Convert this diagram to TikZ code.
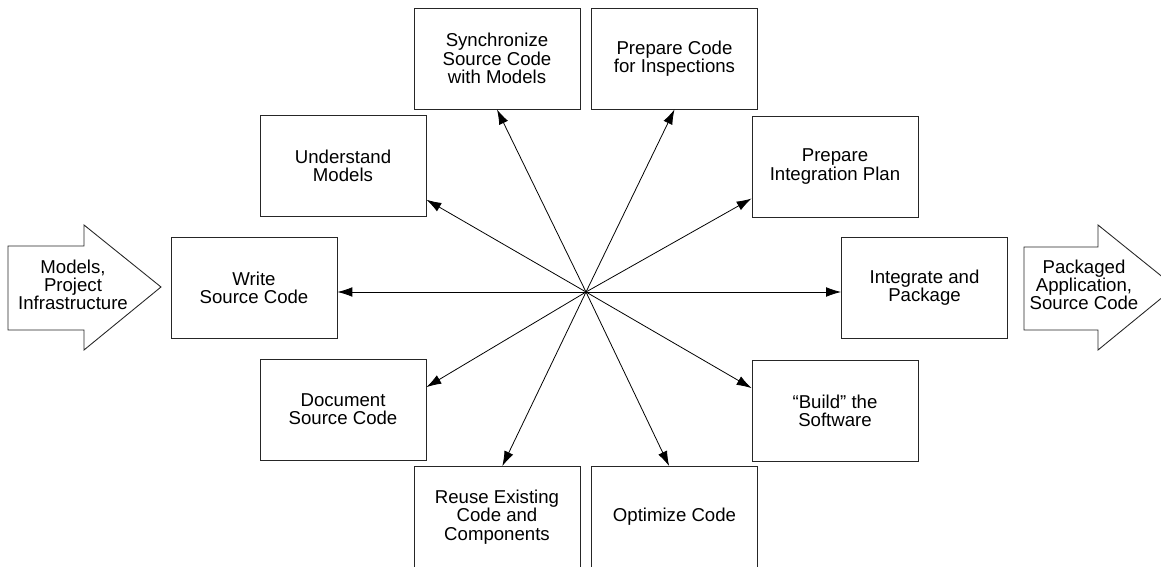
\documentclass[tikz,border=0pt]{standalone}
\usepackage{fontspec}
\setmainfont{Liberation Sans}
\usetikzlibrary{arrows.meta}

\begin{document}
\begin{tikzpicture}[x=0.02cm,y=-0.02cm,
  task/.style={draw=black!85,line width=0.5pt,minimum width=3.32cm,minimum height=2.02cm,
    inner sep=0pt,align=center,font=\fontsize{10.6}{10.4}\selectfont},
  spoke/.style={line width=0.45pt,-{Latex[length=8.5pt,width=5.5pt]}},
  flow/.style={draw=black!85,line width=0.5pt},
  flowtext/.style={align=center,font=\fontsize{10.6}{10.4}\selectfont}]
\useasboundingbox (0,0) rectangle (1161,567);
\clip (0,0) rectangle (1161,567);
\coordinate (hub) at (586,292);
% the ten tasks
\node[task] (sync) at (497,58.5) {Synchronize\\Source Code\\with Models};
\node[task] (prepinsp) at (674.5,58.5) {Prepare Code\\for Inspections};
\node[task] (understand) at (343,166) {Understand\\Models};
\node[task] (intplan) at (835,166.5) {Prepare\\Integration Plan};
\node[task] (write) at (254,287.5) {Write\\Source Code};
\node[task] (integrate) at (924.5,288) {Integrate and\\Package};
\node[task] (document) at (343,409.5) {Document\\Source Code};
\node[task] (build) at (835,410.5) {“Build” the\\Software};
\node[task] (reuse) at (497,517) {Reuse Existing\\Code and\\Components};
\node[task] (optimize) at (674.5,517) {Optimize Code};
% spokes
\draw[spoke] (hub) -- (sync.south);
\draw[spoke] (hub) -- (prepinsp.south);
\draw[spoke] (hub) -- (understand.-22);
\draw[spoke] (hub) -- (intplan.201);
\draw[spoke] (hub) -- (hub -| write.east);
\draw[spoke] (hub) -- (hub -| integrate.west);
\draw[spoke] (hub) -- (document.15);
\draw[spoke] (hub) -- (build.165);
\draw[spoke] (hub) -- (reuse.84);
\draw[spoke] (hub) -- (optimize.96);
% input and output
\draw[flow] (8,246) -- (84,246) -- (84,225) -- (161,287) -- (84,350) -- (84,330) -- (8,330) -- cycle;
\node[flowtext] (input) at (73,285) {Models,\\Project\\Infrastructure};
\draw[flow] (1024,247) -- (1098,247) -- (1098,225) -- (1175,287) -- (1098,350) -- (1098,330) -- (1024,330) -- cycle;
\node[flowtext] (output) at (1084,285) {Packaged\\Application,\\Source Code};
\end{tikzpicture}
\end{document}
